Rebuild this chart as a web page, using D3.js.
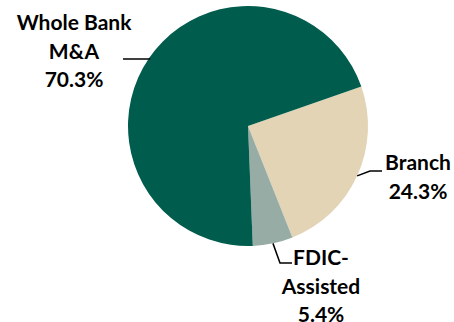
<!DOCTYPE html>
<html>
<head>
<meta charset="utf-8">
<script src="https://cdn.jsdelivr.net/npm/d3@7"></script>
<style>
  body { margin: 0; background: #fff; }
  svg { display: block; }
  text { font-family: Lato, "Open Sans", sans-serif; font-weight: bold; font-size: 21px; fill: #000; }
</style>
</head>
<body>
<svg id="svg" width="454" height="322"></svg>
<script>
var categories = ["Branch", "FDIC-Assisted", "Whole Bank M&A"];
var shares = [24.3, 5.4, 70.3];
var labelLines = [["Branch", "24.3%"], ["FDIC-", "Assisted", "5.4%"], ["Whole Bank", "M&A", "70.3%"]];
var colors = ["#e2d4b4", "#98aca6", "#005c4c"];

var svg = d3.select("#svg");
var center = { x: 248, y: 126 };
var radius = 120;
var startDeg = 70.8;

var pie = d3.pie().sort(null).value(function (d) { return d; })
  .startAngle(startDeg * Math.PI / 180)
  .endAngle((startDeg + 360) * Math.PI / 180);
var arc = d3.arc().innerRadius(0).outerRadius(radius);

var g = svg.append("g")
  .attr("transform", "translate(" + center.x + "," + center.y + ")");

var arcs = pie(shares);

g.selectAll("path")
  .data(arcs)
  .enter()
  .append("path")
  .attr("d", arc)
  .attr("fill", function (d, i) { return colors[i]; });

// label layout: elbow offset, line end, text position (relative to center)
var labelPos = [
  { elbow: [122, 45], end: [134, 45], text: [170, 44] },
  { elbow: [32, 137], end: [44, 137], text: [73, 139] },
  { elbow: [-98, -67], end: [-125, -67], text: [-174, -96] }
];

var lineHeight = 28.5;

arcs.forEach(function (d, i) {
  var mid = (d.startAngle + d.endAngle) / 2;
  var p0 = [Math.sin(mid) * radius, -Math.cos(mid) * radius];
  var lp = labelPos[i];
  g.append("polyline")
    .attr("points", [p0, lp.elbow, lp.end].map(function (p) { return p.join(","); }).join(" "))
    .attr("fill", "none")
    .attr("stroke", "#000")
    .attr("stroke-width", 1.5);
  var t = g.append("text")
    .attr("text-anchor", "middle")
    .attr("x", lp.text[0])
    .attr("y", lp.text[1]);
  labelLines[i].forEach(function (s, j) {
    t.append("tspan")
      .attr("x", lp.text[0])
      .attr("dy", j === 0 ? 0 : lineHeight)
      .text(s);
  });
});
</script>
</body>
</html>
